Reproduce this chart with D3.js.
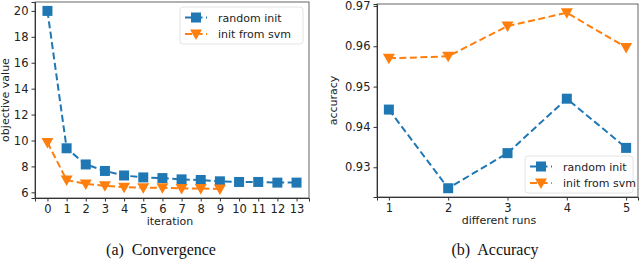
<!DOCTYPE html>
<html>
<head>
<meta charset="utf-8">
<script src="https://cdn.jsdelivr.net/npm/d3@7"></script>
<style>
  body { margin: 0; background: #fff; }
  text { font-family: "DejaVu Sans", sans-serif; fill: #222; }
  .caption { font-family: "Liberation Serif", "Times New Roman", serif; font-size: 16px; fill: #111; white-space: pre; }
</style>
</head>
<body>
<svg id="chart" width="640" height="260"></svg>
<script>
// panel (a) convergence
var iterRandom = [0,1,2,3,4,5,6,7,8,9,10,11,12,13];
var objRandom = [20, 9.4, 8.15, 7.65, 7.3, 7.15, 7.1, 7.0, 6.95, 6.85, 6.8, 6.8, 6.75, 6.75];
var iterSvm = [0,1,2,3,4,5,6,7,8,9];
var objSvm = [9.85, 6.95, 6.65, 6.5, 6.4, 6.35, 6.35, 6.3, 6.3, 6.25];
var objTicks = [6, 8, 10, 12, 14, 16, 18, 20];

// panel (b) accuracy
var runs = [1, 2, 3, 4, 5];
var accRandom = [0.9443, 0.9248, 0.9335, 0.947, 0.9348];
var accSvm = [0.957, 0.9575, 0.965, 0.9683, 0.9597];
var accTicks = [0.93, 0.94, 0.95, 0.96, 0.97];

var blue = "#1f77b4", orange = "#ff7f0e";
var svg = d3.select("#chart");

// matplotlib style 5% padding
function padded(vals) {
    var lo = d3.min(vals), hi = d3.max(vals), m = (hi - lo) * 0.05;
    return [lo - m, hi + m];
}

function panel(opt) {
    var x = d3.scaleLinear().domain(padded(opt.xs)).range([opt.left, opt.right]);
    var y = d3.scaleLinear().domain(padded(opt.ys)).range([opt.bottom, opt.top]);
    var g = svg.append("g");

    // frame
    g.append("rect")
        .attr("x", opt.left).attr("y", opt.top)
        .attr("width", opt.right - opt.left).attr("height", opt.bottom - opt.top)
        .attr("fill", "none").attr("stroke", "#555").attr("stroke-width", 0.9);

    var xa = g.append("g")
        .attr("transform", "translate(0," + opt.bottom + ")")
        .call(d3.axisBottom(x).tickValues(opt.xTicks).tickSize(3.5).tickPadding(3).tickFormat(d3.format("d")));
    var ya = g.append("g")
        .attr("transform", "translate(" + opt.left + ",0)")
        .call(d3.axisLeft(y).tickValues(opt.yTicks).tickSize(3.5).tickPadding(3).tickFormat(opt.yFormat));
    [xa, ya].forEach(function (a) {
        a.select(".domain").attr("stroke", "#333");
        a.selectAll(".tick line").attr("stroke", "#333");
        a.selectAll("text").style("font-size", "11.5px").style("font-family", "DejaVu Sans, sans-serif").attr("fill", "#222");
    });

    g.append("text")
        .attr("x", opt.labelX).attr("y", opt.bottom + 27)
        .attr("text-anchor", "middle").style("font-size", "11px")
        .text(opt.xLabel);
    g.append("text")
        .attr("transform", "translate(" + opt.yLabelX + "," + ((opt.top + opt.bottom) / 2) + ") rotate(-90)")
        .attr("text-anchor", "middle").style("font-size", "11px")
        .text(opt.yLabel);
    g.append("text")
        .attr("class", "caption")
        .attr("x", opt.captionX).attr("y", 255)
        .attr("text-anchor", "middle")
        .text(opt.caption);

    opt.series.forEach(function (s) {
        var pts = s.xs.map(function (d, i) { return [x(d), y(s.ys[i])]; });
        g.append("path")
            .attr("d", d3.line()(pts))
            .attr("fill", "none").attr("stroke", s.color)
            .attr("stroke-width", 2).attr("stroke-dasharray", "7,3.5");
        g.selectAll(null).data(pts).enter().append("path")
            .attr("transform", function (p) { return "translate(" + p[0] + "," + p[1] + ")"; })
            .attr("d", s.shape)
            .attr("fill", s.color);
    });

    // legend
    var lg = g.append("g").attr("transform", "translate(" + opt.legend[0] + "," + opt.legend[1] + ")");
    lg.append("rect")
        .attr("width", opt.legendW).attr("height", 37).attr("rx", 3)
        .attr("fill", "#fff").attr("fill-opacity", 0.8)
        .attr("stroke", "#ddd").attr("stroke-width", 0.8);
    opt.series.forEach(function (s, i) {
        var yy = 10.5 + i * 16.5;
        lg.append("line")
            .attr("x1", 5).attr("x2", 27).attr("y1", yy).attr("y2", yy)
            .attr("stroke", s.color).attr("stroke-width", 2).attr("stroke-dasharray", "7,3.5");
        lg.append("path")
            .attr("transform", "translate(16," + yy + ")")
            .attr("d", s.shape).attr("fill", s.color);
        lg.append("text")
            .attr("x", 38).attr("y", yy + 4)
            .style("font-size", "11px")
            .text(s.name);
    });
}

var square = "M-5,-5H5V5H-5Z";
var tri = "M-6,-4.5L6,-4.5L0,6Z";

panel({
    left: 35, right: 309, top: 2, bottom: 198,
    xs: iterRandom, ys: objRandom.concat(objSvm),
    xTicks: iterRandom, yTicks: objTicks, yFormat: d3.format("d"),
    xLabel: "iteration", yLabel: "objective value", yLabelX: 9, labelX: 170,
    caption: "(a)  Convergence", captionX: 161,
    legend: [180, 7], legendW: 123,
    series: [
        { name: "random init", xs: iterRandom, ys: objRandom, color: blue, shape: square },
        { name: "init from svm", xs: iterSvm, ys: objSvm, color: orange, shape: tri }
    ]
});

panel({
    left: 377, right: 638, top: 4, bottom: 197,
    xs: runs, ys: accRandom.concat(accSvm),
    xTicks: runs, yTicks: accTicks, yFormat: d3.format(".2f"),
    xLabel: "different runs", yLabel: "accuracy", yLabelX: 337, labelX: 499,
    caption: "(b)  Accuracy", captionX: 495,
    legend: [525, 156], legendW: 108,
    series: [
        { name: "random init", xs: runs, ys: accRandom, color: blue, shape: square },
        { name: "init from svm", xs: runs, ys: accSvm, color: orange, shape: tri }
    ]
});
</script>
</body>
</html>
